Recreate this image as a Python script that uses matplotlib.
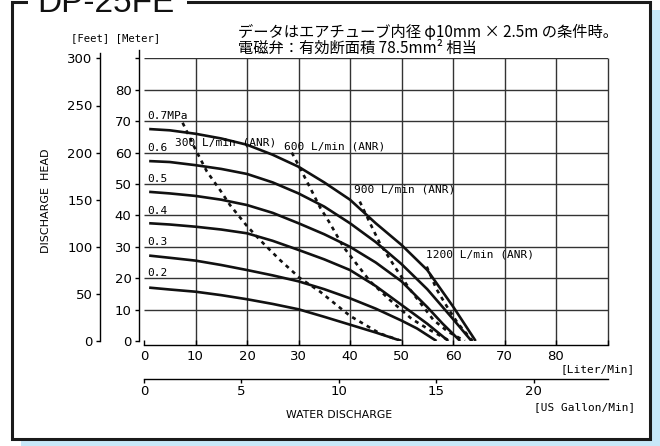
import matplotlib.pyplot as plt
from matplotlib.patches import Rectangle

W, H = 660, 446

# pump curves: flow [L/min] vs discharge head [m] for each supply pressure
pressure_labels = ['0.7MPa', '0.6', '0.5', '0.4', '0.3', '0.2']
pressure_levels = [70, 60, 50, 40, 30, 20]
flow_07 = [1, 5, 10, 15, 20, 25, 30, 35, 40, 45, 50, 55, 60, 64.4]
head_07 = [67.5, 67.1, 66, 64.5, 62.5, 59.3, 55.5, 50.5, 45, 37.5, 30.6, 22.6, 11, 0]
flow_06 = [1, 5, 10, 15, 20, 25, 30, 35, 40, 45, 50, 55, 60, 63.6]
head_06 = [57.3, 57, 56, 54.8, 53.2, 50.5, 47, 42.8, 37.5, 31.5, 24.5, 16.5, 7, 0]
flow_05 = [1, 5, 10, 15, 20, 25, 30, 35, 40, 45, 50, 55, 58, 61.4]
head_05 = [47.5, 47, 46.2, 45, 43.3, 40.8, 37.5, 34, 30, 25, 19, 10.8, 5.5, 0]
flow_04 = [1, 5, 10, 15, 20, 25, 30, 35, 40, 45, 50, 55, 59.1]
head_04 = [37.5, 37.1, 36.4, 35.5, 34.3, 31.9, 29, 26, 22.6, 17.5, 11.5, 5.5, 0]
flow_03 = [1, 5, 10, 15, 20, 25, 30, 35, 40, 45, 50, 53, 56.8]
head_03 = [27.2, 26.5, 25.6, 24.2, 22.6, 20.9, 19, 16.5, 13.6, 10.3, 6.5, 4, 0]
flow_02 = [1, 5, 10, 15, 20, 25, 30, 35, 40, 45, 50]
head_02 = [17, 16.4, 15.7, 14.6, 13.3, 11.8, 10.1, 7.7, 5.2, 2.7, 0]

# air consumption lines
air_labels = ['300 L/min (ANR)', '600 L/min (ANR)', '900 L/min (ANR)', '1200 L/min (ANR)']
air_300_x = [7.5, 10, 12.2, 14.8, 16.7, 19.9, 22.5, 26.4, 30.3, 34.2, 40, 45.8, 50]
air_300_y = [69.5, 61, 54, 48, 43.3, 36.8, 32.2, 25.8, 20, 15.7, 8, 2.4, 0]
air_600_x = [28.7, 30, 32.2, 34.2, 36.1, 38.7, 43.9, 47.8, 52, 55.5, 59.4]
air_600_y = [60, 56, 49, 42.5, 37.5, 30, 19, 13, 7, 3.5, 0]
air_900_x = [41.9, 43.9, 45.8, 49.1, 51.6, 56.2, 59, 62.3]
air_900_y = [44.4, 37.5, 31.1, 22.6, 16.5, 6.7, 3, 0]
air_1200_x = [54.9, 56.8, 59, 61, 63.8]
air_1200_y = [23.7, 16.5, 10.5, 5.5, 0]

meter_ticks = list(range(0, 100, 10))
meter_ticklabels = [str(v) for v in meter_ticks[:-1]] + ['']
feet_ticks = list(range(0, 350, 50))
liter_ticks = list(range(0, 100, 10))
liter_ticklabels = [str(v) for v in liter_ticks[:-1]] + ['']
gallon_ticks = [0, 5, 10, 15, 20]

M_TO_FT = 3.28084
GAL_TO_L = 3.78541

SANS = ['DejaVu Sans']
MONO = ['DejaVu Sans Mono']
JP = ['Noto Sans CJK JP', 'DejaVu Sans']

plt.rcParams['font.family'] = SANS
plt.rcParams['font.size'] = 9.5


def fx(px):
    return px / W


def fy(py):
    return 1 - py / H


fig = plt.figure(figsize=(6.6, 4.46), dpi=100)

# light blue shadow + black frame
fig.add_artist(Rectangle((fx(21), fy(470)), fx(700) - fx(21), fy(10) - fy(470),
                         transform=fig.transFigure, facecolor='#c8e8f8', edgecolor='none', zorder=-3))
fig.add_artist(Rectangle((fx(11.5), fy(438.5)), fx(649.5) - fx(11.5), fy(2) - fy(438.5),
                         transform=fig.transFigure, facecolor='white', edgecolor='#1a1a1a',
                         lw=2.2, zorder=-2))
# gap in the frame for the title
fig.add_artist(Rectangle((fx(28), fy(9)), fx(187) - fx(28), fy(-5) - fy(9),
                         transform=fig.transFigure, facecolor='white', edgecolor='none', zorder=2))
fig.text(fx(37), fy(12), 'DP-25FE', fontsize=24, family=['Liberation Sans', 'DejaVu Sans'],
         ha='left', va='baseline', color='#111111', zorder=3)

rect = [fx(144), fy(341), fx(607.5) - fx(144), fy(58.4) - fy(341)]

# main axes: meter / liter
ax = fig.add_axes(rect)
ax.set_xlim(0, 90)
ax.set_ylim(0, 90)
ax.patch.set_alpha(0)
ax.spines['top'].set_visible(False)
ax.spines['right'].set_visible(False)
ax.spines['left'].set_position(('outward', 3.6))
ax.spines['left'].set_bounds(0, 92.8)
ax.spines['bottom'].set_position(('outward', 2.9))
ax.spines['bottom'].set_bounds(0, 90)
for s in ['left', 'bottom']:
    ax.spines[s].set_linewidth(1.0)
ax.set_yticks(meter_ticks)
ax.set_yticklabels(meter_ticklabels)
ax.set_xticks(liter_ticks)
ax.set_xticklabels(liter_ticklabels)
ax.tick_params(axis='y', direction='out', length=2.9, width=1.0, pad=2.5)
ax.tick_params(axis='x', direction='in', length=3.5, width=1.0, pad=3.5)

ax.vlines(liter_ticks[1:], -1.27, 90, colors='#333333', lw=1.0, clip_on=False, zorder=1)
ax.hlines(meter_ticks[1:], 0, 90, colors='#333333', lw=1.0, zorder=1)

curves = [(flow_07, head_07), (flow_06, head_06), (flow_05, head_05),
          (flow_04, head_04), (flow_03, head_03), (flow_02, head_02)]
for (fl, hd) in curves:
    ax.plot(fl, hd, color='#111111', lw=1.9, solid_capstyle='butt', solid_joinstyle='round', zorder=3)
for lab, lev in zip(pressure_labels, pressure_levels):
    ax.text(0.6, lev + 0.6, lab, family=MONO, fontsize=8, ha='left', va='baseline', zorder=4)

air_lines = [(air_300_x, air_300_y), (air_600_x, air_600_y),
             (air_900_x, air_900_y), (air_1200_x, air_1200_y)]
for (xs, ys) in air_lines:
    ax.plot(xs, ys, color='#111111', lw=1.9, linestyle=(0, (1.5, 1.7)), zorder=3)
air_label_pos = [(6.0, 63.2), (27.2, 61.9), (40.8, 48.1), (54.8, 27.4)]
for lab, (x, y) in zip(air_labels, air_label_pos):
    ax.text(x, y, lab, family=MONO, fontsize=8, ha='left', va='center', zorder=4)

# feet axis
axf = fig.add_axes(rect)
axf.set_ylim(0, 90 * M_TO_FT)
axf.patch.set_alpha(0)
for s in ['top', 'right', 'bottom']:
    axf.spines[s].set_visible(False)
axf.spines['left'].set_position(('outward', 31.7))
axf.spines['left'].set_bounds(0, 306)
axf.spines['left'].set_linewidth(1.0)
axf.set_xticks([])
axf.set_yticks(feet_ticks)
axf.tick_params(axis='y', direction='out', length=2.9, width=1.0, pad=2.5)

# US gallon axis
axg = fig.add_axes(rect)
axg.set_xlim(0, 90 / GAL_TO_L)
axg.patch.set_alpha(0)
for s in ['top', 'right', 'left']:
    axg.spines[s].set_visible(False)
axg.spines['bottom'].set_position(('outward', 27.4))
axg.spines['bottom'].set_bounds(0, 90 / GAL_TO_L)
axg.spines['bottom'].set_linewidth(1.0)
axg.set_yticks([])
axg.set_xticks(gallon_ticks)
axg.tick_params(axis='x', direction='out', length=3.0, width=1.0, pad=1.0)

# labels
fig.text(fx(116), fy(38), '[Feet] [Meter]', family=MONO, fontsize=7.6, ha='center', va='center')
fig.text(fx(46), fy(201), 'DISCHARGE  HEAD', fontsize=8, rotation=90, ha='center', va='center')
fig.text(fx(635), fy(369), '[Liter/Min]', family=MONO, fontsize=8, ha='right', va='center')
fig.text(fx(635), fy(407), '[US Gallon/Min]', family=MONO, fontsize=8, ha='right', va='center')
fig.text(fx(339), fy(415), 'WATER DISCHARGE', fontsize=7.8, ha='center', va='center')

fig.text(fx(238), fy(32), 'データはエアチューブ内径 φ10mm × 2.5m の条件時。',
         family=JP, fontsize=11, ha='left', va='center')
fig.text(fx(238), fy(48), '電磁弁：有効断面積 78.5mm² 相当',
         family=JP, fontsize=11, ha='left', va='center')

fig.savefig('out.png', dpi=100)
